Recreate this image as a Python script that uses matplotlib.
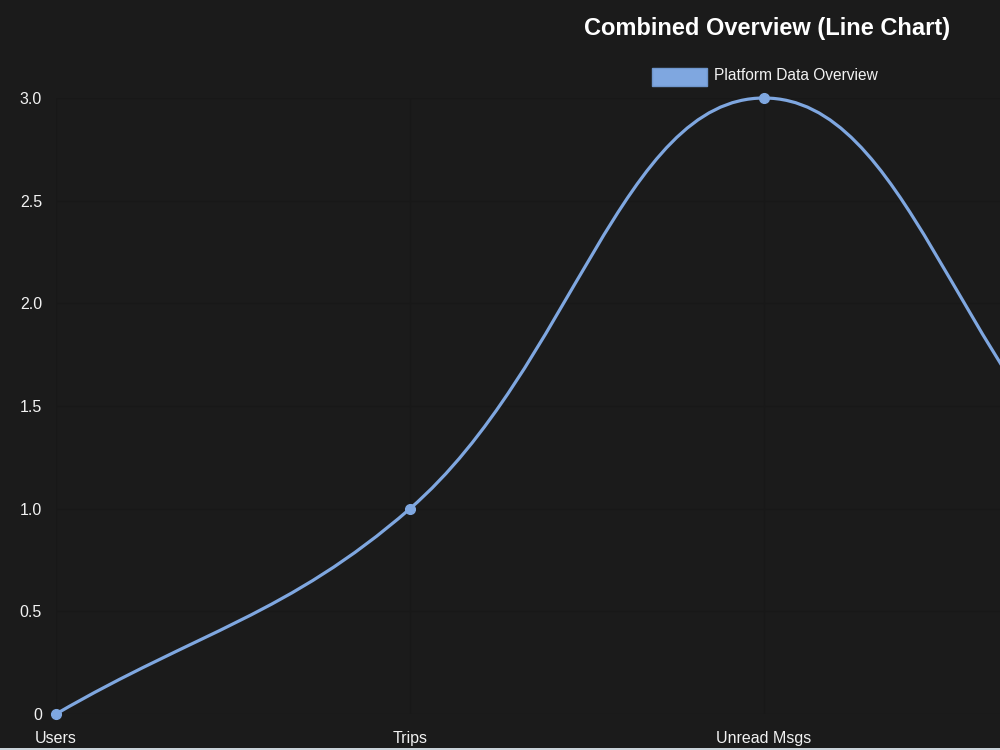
import numpy as np
import matplotlib.pyplot as plt
from matplotlib.path import Path
from matplotlib.patches import PathPatch, Rectangle

plt.rcParams['font.family'] = ['Liberation Sans', 'DejaVu Sans']

categories = ['Users', 'Trips', 'Unread Msgs', 'Pending', 'Other']
values = [0, 1, 3, 1, 0]
series_name = 'Platform Data Overview'
title = 'Combined Overview (Line Chart)'
y_ticks = [0, 0.5, 1.0, 1.5, 2.0, 2.5, 3.0]
y_labels = ['0', '0.5', '1.0', '1.5', '2.0', '2.5', '3.0']

bg = '#1b1b1b'
line_color = '#7fa7e0'
grid_color = '#181818'
text_color = '#f2f2f2'

W, H = 1000, 750
fig = plt.figure(figsize=(W / 100, H / 100), dpi=100, facecolor=bg)
step_px = 354
ax = fig.add_axes([56 / W, 36 / H, 4 * step_px / W, 616 / H])
ax.set_facecolor(bg)
ax.set_xlim(0, len(categories) - 1)
ax.set_ylim(0, 3)
for s in ax.spines.values():
    s.set_visible(False)

ax.set_xticks(range(len(categories)))
ax.set_xticklabels(categories)
ax.set_yticks(y_ticks)
ax.set_yticklabels(y_labels)
ax.tick_params(colors=text_color, labelsize=11.5, length=0)
ax.tick_params(axis='y', pad=10)
ax.tick_params(axis='x', pad=12)
# the canvas is cropped on the right: labels past the edge are not shown
for lbl in ax.get_xticklabels()[3:]:
    lbl.set_visible(False)
ax.grid(True, color=grid_color, linewidth=1)
ax.set_axisbelow(True)

# chart.js style bezier (tension 0.4) in pixel-scaled space
sx, sy = step_px, 616 / 3
xs = np.arange(len(values), dtype=float)
ys = np.array(values, dtype=float)
t = 0.4
cps = []
for i in range(len(xs)):
    p = np.array([xs[i], ys[i]])
    prev = np.array([xs[i - 1], ys[i - 1]]) if i > 0 else p
    nxt = np.array([xs[i + 1], ys[i + 1]]) if i < len(xs) - 1 else p
    d01 = np.hypot((p[0] - prev[0]) * sx, (p[1] - prev[1]) * sy)
    d12 = np.hypot((nxt[0] - p[0]) * sx, (nxt[1] - p[1]) * sy)
    tot = d01 + d12
    s01 = d01 / tot if tot else 0
    s12 = d12 / tot if tot else 0
    cps.append((p - t * s01 * (nxt - prev), p + t * s12 * (nxt - prev)))

verts = [(xs[0], ys[0])]
codes = [Path.MOVETO]
for i in range(len(xs) - 1):
    verts += [tuple(cps[i][1]), tuple(cps[i + 1][0]), (xs[i + 1], ys[i + 1])]
    codes += [Path.CURVE4] * 3
ax.add_patch(PathPatch(Path(verts, codes), facecolor='none', edgecolor=line_color,
                       linewidth=2.3, clip_on=False, zorder=3))
ax.plot(xs, ys, linestyle='none', marker='o', markersize=7, color=line_color,
        clip_on=False, zorder=4)

fig.text(767 / W, 1 - 28 / H, title, ha='center', va='center', color='white',
         fontsize=17, fontweight='bold')
fig.patches.append(Rectangle((652 / W, 1 - 86 / H), 55 / W, 18 / H, transform=fig.transFigure,
                             facecolor=line_color, edgecolor='#6f96cc', linewidth=1))
fig.text(714 / W, 1 - 76 / H, series_name, ha='left', va='center', color=text_color,
         fontsize=11.2)
fig.patches.append(Rectangle((0, 0), 1, 2 / H, transform=fig.transFigure,
                             facecolor='#c9d3da', edgecolor='none'))

fig.savefig('out.png', dpi=100, facecolor=bg)
